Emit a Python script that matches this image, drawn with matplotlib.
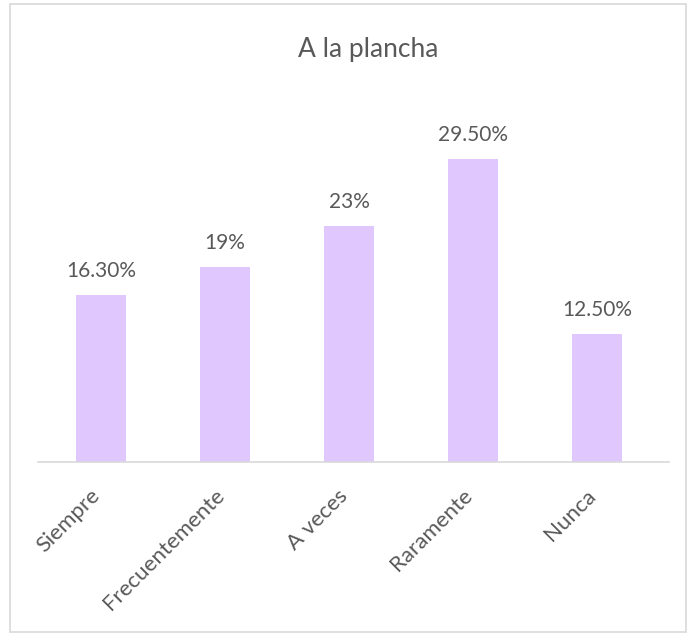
import matplotlib

matplotlib.use("Agg")
import matplotlib.pyplot as plt
from matplotlib.patches import Rectangle

categories = ["Siempre", "Frecuentemente", "A veces", "Raramente", "Nunca"]
values = [16.3, 19, 23, 29.5, 12.5]
value_labels = ["16.30%", "19%", "23%", "29.50%", "12.50%"]

TEXT = "#595959"
BAR = "#E0C8FF"
FONT = "Lato"

fig = plt.figure(figsize=(6.96, 6.36), dpi=100)
fig.patches.append(Rectangle((10 / 696, 4 / 636), 676 / 696, 628 / 636,
                             transform=fig.transFigure, fill=False,
                             edgecolor="#D9D9D9", linewidth=1.2))

ax = fig.add_axes([38 / 696, 1 - 462 / 636, 631 / 696, 360 / 636])
x = range(len(categories))
bars = ax.bar(x, values, width=0.4, color=BAR)
ax.set_xlim(-0.51, 4.58)
ax.set_ylim(0, 360 / 10.27)

for bar, lab in zip(bars, value_labels):
    ax.annotate(lab, (bar.get_x() + bar.get_width() / 2, bar.get_height()),
                xytext=(0, 13), textcoords="offset points",
                ha="center", va="baseline", fontsize=15, color=TEXT, family=FONT)

ax.set_xticks(list(x))
ax.set_xticklabels(categories, rotation=45, ha="right", va="baseline",
                   rotation_mode="anchor", fontsize=16, color=TEXT, family=FONT)
ax.tick_params(axis="x", length=0, pad=25)
ax.set_yticks([])
for side in ["top", "right", "left"]:
    ax.spines[side].set_visible(False)
ax.spines["bottom"].set_color("#D9D9D9")
ax.spines["bottom"].set_linewidth(1.2)

fig.text(368 / 696, 1 - 50 / 636, "A la plancha", ha="center", va="center",
         fontsize=19, color=TEXT, family=FONT)

fig.savefig("out.png", dpi=100)
